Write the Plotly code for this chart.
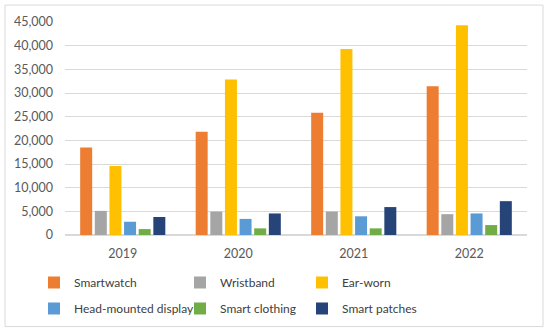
import plotly.graph_objects as go

years = ["2019", "2020", "2021", "2022"]
series_names = ["Smartwatch", "Wristband", "Ear-worn", "Head-mounted display", "Smart clothing", "Smart patches"]
smartwatch = [18500, 21800, 25850, 31450]
wristband = [5100, 4950, 4950, 4400]
ear_worn = [14600, 32850, 39300, 44300]
head_mounted = [2800, 3400, 3950, 4550]
smart_clothing = [1250, 1400, 1400, 2100]
smart_patches = [3800, 4550, 5900, 7150]
colors = ["#ED7D31", "#A5A5A5", "#FFC000", "#5B9BD5", "#70AD47", "#264478"]
y_ticks = [0, 5000, 10000, 15000, 20000, 25000, 30000, 35000, 40000, 45000]

values = [smartwatch, wristband, ear_worn, head_mounted, smart_clothing, smart_patches]
# legend column for each series (Excel-style 3-column legend)
legend_ids = ["legend", "legend2", "legend3", "legend", "legend2", "legend3"]

FONT = "Lato"
fig = go.Figure()
for i, (name, vals, col, lg) in enumerate(zip(series_names, values, colors, legend_ids)):
    fig.add_trace(go.Bar(x=years, y=vals, name=name, marker=dict(color=col, line=dict(width=0)),
                         legend=lg, legendgroup="g%d" % i, legendrank=i))

legend_common = dict(orientation="v", xanchor="left", yanchor="middle", y=-0.278,
                     font=dict(family=FONT, size=12, color="#404040"),
                     tracegroupgap=7, bgcolor="rgba(0,0,0,0)",
                     itemclick=False, itemdoubleclick=False)

fig.update_layout(
    width=550, height=334,
    margin=dict(l=65, r=23, t=22, b=98),
    paper_bgcolor="white", plot_bgcolor="white",
    barmode="group", bargap=0.24, bargroupgap=0.18,
    font=dict(family=FONT, size=12.5, color="#595959"),
    legend=dict(x=(34 - 65) / 462, **legend_common),
    legend2=dict(x=(180 - 65) / 462, **legend_common),
    legend3=dict(x=(302 - 65) / 462, **legend_common),
    xaxis=dict(showgrid=False, showline=False, ticks="", ticklabelstandoff=9,
               tickfont=dict(family=FONT, size=12.5, color="#595959")),
    yaxis=dict(range=[0, 45000], tickvals=y_ticks, tickformat=",", showgrid=True,
               gridcolor="#D9D9D9", gridwidth=1, zeroline=True, zerolinecolor="#D9D9D9",
               showline=False, ticks="", ticklabelstandoff=11,
               tickfont=dict(family=FONT, size=12.5, color="#595959")),
    shapes=[dict(type="rect", xref="paper", yref="paper",
                 x0=(5 - 65) / 462, x1=(543 - 65) / 462,
                 y0=(236 - 328) / 214, y1=(236 - 5) / 214,
                 line=dict(color="#D9D9D9", width=1), fillcolor="rgba(0,0,0,0)", layer="below")],
)

fig.write_html("out.html", config={"displayModeBar": False},
               post_script="document.body.style.margin='0';")
